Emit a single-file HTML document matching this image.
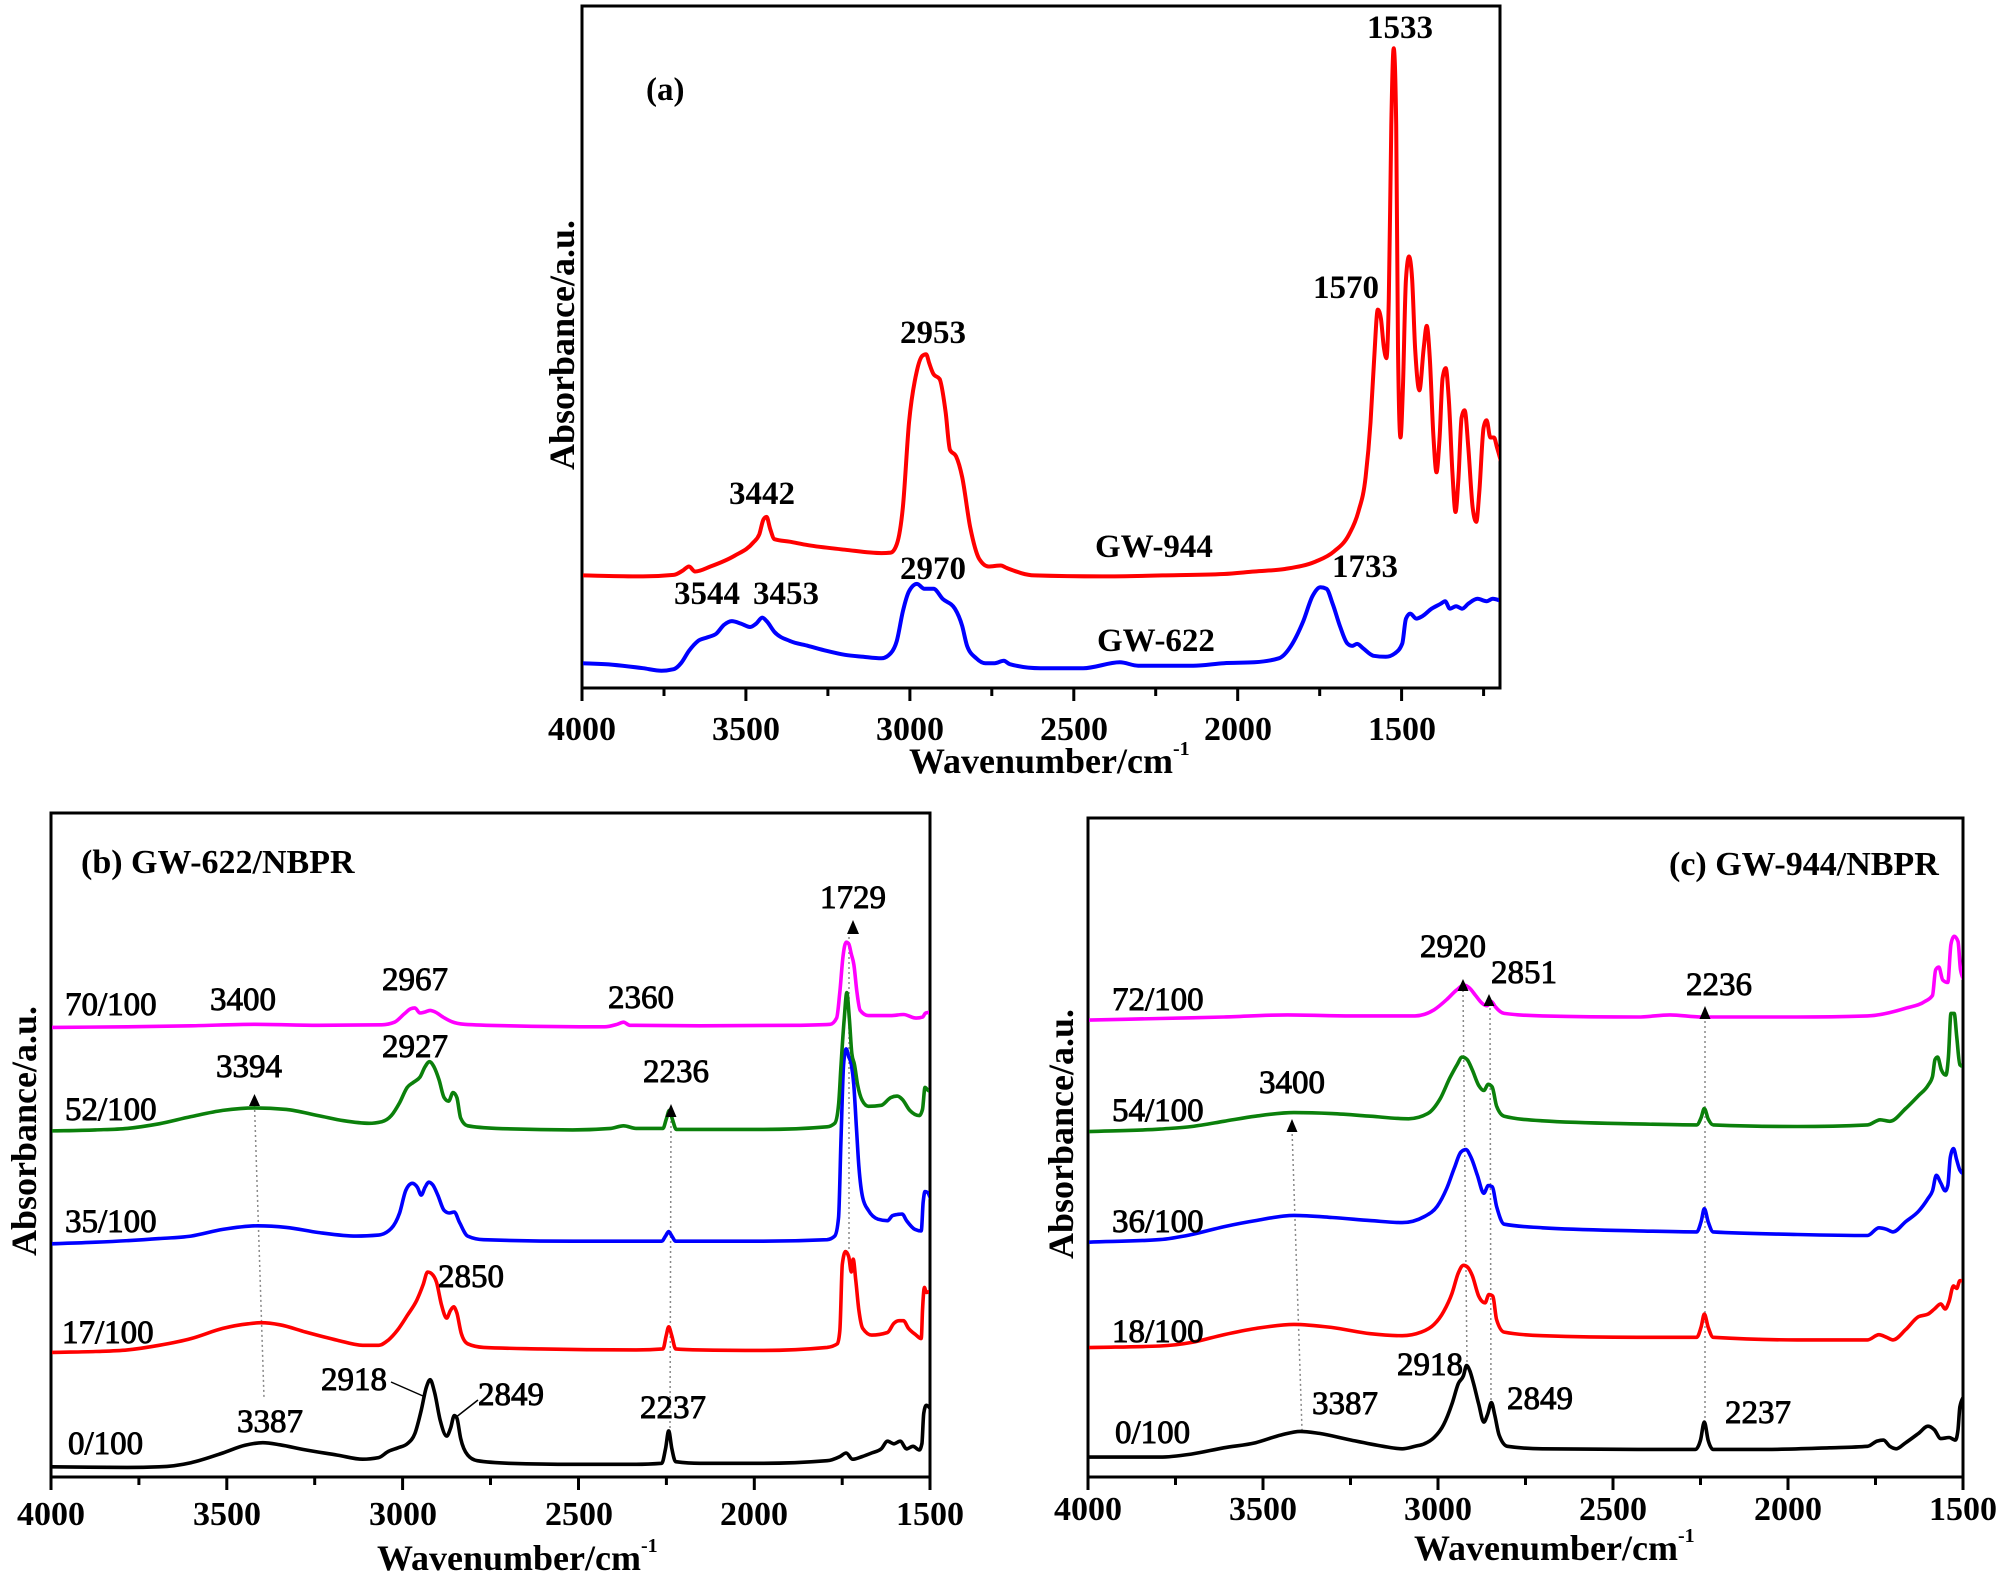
<!DOCTYPE html>
<html><head><meta charset="utf-8">
<style>
html,body{margin:0;padding:0;background:#fff;}
svg{display:block;}
text{font-family:"Liberation Serif","Times New Roman",serif;fill:#000;}
.tk{font-size:34px;font-weight:bold;text-anchor:middle;}
.xl{font-size:36px;font-weight:bold;}
.yl{font-size:36px;font-weight:bold;text-anchor:middle;}
.an{font-size:33px;font-weight:bold;}
.bn{font-size:33px;stroke:#000;stroke-width:0.9px;}
.ttl{font-size:34px;font-weight:bold;}
</style></head><body>
<svg id="s" width="2000" height="1580" viewBox="0 0 2000 1580" xmlns="http://www.w3.org/2000/svg">
<defs>
<clipPath id="ca"><rect x="583" y="7" width="916" height="680"/></clipPath>
<clipPath id="cb"><rect x="52" y="814" width="877" height="662"/></clipPath>
<clipPath id="cc"><rect x="1089" y="819" width="873" height="657"/></clipPath>
</defs>

<!-- Panel A frame -->
<rect x="582" y="6" width="918" height="682" fill="none" stroke="#000" stroke-width="3"/>
<path d="M582,688V701M745.9,688V701M909.9,688V701M1073.8,688V701M1237.7,688V701M1401.6,688V701M664,688V696M827.9,688V696M991.8,688V696M1155.7,688V696M1319.7,688V696M1483.6,688V696" stroke="#000" stroke-width="3"/>
<text class="tk" x="582" y="740">4000</text>
<text class="tk" x="746" y="740">3500</text>
<text class="tk" x="910" y="740">3000</text>
<text class="tk" x="1074" y="740">2500</text>
<text class="tk" x="1238" y="740">2000</text>
<text class="tk" x="1402" y="740">1500</text>
<text class="xl" x="909" y="773">Wavenumber/cm<tspan font-size="20" dy="-18">-1</tspan></text>
<text class="yl" transform="translate(574,345) rotate(-90)">Absorbance/a.u.</text>
<g id="ga" clip-path="url(#ca)"></g>
<text class="an" x="646" y="100">(a)</text>
<text class="an" x="1400" y="38" text-anchor="middle">1533</text>
<text class="an" x="1313" y="298">1570</text>
<text class="an" x="900" y="343">2953</text>
<text class="an" x="729" y="504">3442</text>
<text class="an" x="1095" y="557">GW-944</text>
<text class="an" x="900" y="579">2970</text>
<text class="an" x="674" y="604">3544</text>
<text class="an" x="753" y="604">3453</text>
<text class="an" x="1332" y="577">1733</text>
<text class="an" x="1097" y="651">GW-622</text>

<!-- Panel B frame -->
<rect x="51" y="813" width="879" height="664" fill="none" stroke="#000" stroke-width="3"/>
<path d="M51,1477V1490M226.8,1477V1490M402.6,1477V1490M578.5,1477V1490M754.3,1477V1490M930,1477V1490M138.9,1477V1485M314.7,1477V1485M490.5,1477V1485M666.4,1477V1485M842.2,1477V1485" stroke="#000" stroke-width="3"/>
<text class="tk" x="51" y="1525">4000</text>
<text class="tk" x="227" y="1525">3500</text>
<text class="tk" x="403" y="1525">3000</text>
<text class="tk" x="579" y="1525">2500</text>
<text class="tk" x="754" y="1525">2000</text>
<text class="tk" x="930" y="1525">1500</text>
<text class="xl" x="377" y="1570">Wavenumber/cm<tspan font-size="20" dy="-18">-1</tspan></text>
<text class="yl" transform="translate(36,1131) rotate(-90)">Absorbance/a.u.</text>
<g stroke="#888" stroke-width="1.5" stroke-dasharray="2,3" fill="none">
<path d="M254.5,1105L264,1398"/>
<path d="M671,1116L670,1431"/>
<path d="M849,932L849,1252"/>
</g>
<g id="gb" clip-path="url(#cb)"></g>
<g fill="#000">
<polygon points="847,934 853,920 859,934"/>
<polygon points="249,1106 254.5,1094 260,1106"/>
<polygon points="665.5,1117 671,1104 676.5,1117"/>
</g>
<path d="M391,1382L423,1396M455,1418L478,1400" stroke="#000" stroke-width="1.5" fill="none"/>
<text class="ttl" x="81" y="873">(b) GW-622/NBPR</text>
<text class="bn" x="65" y="1015">70/100</text>
<text class="bn" x="210" y="1010">3400</text>
<text class="bn" x="382" y="990">2967</text>
<text class="bn" x="608" y="1008">2360</text>
<text class="bn" x="853" y="908" text-anchor="middle">1729</text>
<text class="bn" x="65" y="1120">52/100</text>
<text class="bn" x="216" y="1077">3394</text>
<text class="bn" x="382" y="1057">2927</text>
<text class="bn" x="643" y="1082">2236</text>
<text class="bn" x="65" y="1232">35/100</text>
<text class="bn" x="62" y="1343">17/100</text>
<text class="bn" x="438" y="1287">2850</text>
<text class="bn" x="68" y="1454">0/100</text>
<text class="bn" x="237" y="1432">3387</text>
<text class="bn" x="321" y="1390">2918</text>
<text class="bn" x="478" y="1405">2849</text>
<text class="bn" x="640" y="1418">2237</text>

<!-- Panel C frame -->
<rect x="1088" y="818" width="875" height="659" fill="none" stroke="#000" stroke-width="3"/>
<path d="M1088,1477V1490M1263,1477V1490M1438,1477V1490M1613,1477V1490M1788,1477V1490M1963,1477V1490M1175.5,1477V1485M1350.5,1477V1485M1525.5,1477V1485M1700.5,1477V1485M1875.5,1477V1485" stroke="#000" stroke-width="3"/>
<text class="tk" x="1088" y="1520">4000</text>
<text class="tk" x="1263" y="1520">3500</text>
<text class="tk" x="1438" y="1520">3000</text>
<text class="tk" x="1613" y="1520">2500</text>
<text class="tk" x="1788" y="1520">2000</text>
<text class="tk" x="1963" y="1520">1500</text>
<text class="xl" x="1414" y="1560">Wavenumber/cm<tspan font-size="20" dy="-18">-1</tspan></text>
<text class="yl" transform="translate(1073,1134) rotate(-90)">Absorbance/a.u.</text>
<g stroke="#888" stroke-width="1.5" stroke-dasharray="2,3" fill="none">
<path d="M1292,1129L1302,1430"/>
<path d="M1463,990L1467,1365"/>
<path d="M1490,1003L1491,1400"/>
<path d="M1705,1016L1705,1420"/>
</g>
<g id="gc" clip-path="url(#cc)"></g>
<g fill="#000">
<polygon points="1457.5,991 1463,979 1468.5,991"/>
<polygon points="1483.5,1006 1489,994 1494.5,1006"/>
<polygon points="1699.5,1019 1705,1006 1710.5,1019"/>
<polygon points="1286.5,1132 1292,1119 1297.5,1132"/>
</g>
<text class="ttl" x="1669" y="875">(c) GW-944/NBPR</text>
<text class="bn" x="1112" y="1010">72/100</text>
<text class="bn" x="1420" y="957">2920</text>
<text class="bn" x="1491" y="983">2851</text>
<text class="bn" x="1686" y="995">2236</text>
<text class="bn" x="1112" y="1121">54/100</text>
<text class="bn" x="1259" y="1093">3400</text>
<text class="bn" x="1112" y="1232">36/100</text>
<text class="bn" x="1112" y="1342">18/100</text>
<text class="bn" x="1115" y="1443">0/100</text>
<text class="bn" x="1312" y="1414">3387</text>
<text class="bn" x="1397" y="1375">2918</text>
<text class="bn" x="1507" y="1409">2849</text>
<text class="bn" x="1725" y="1423">2237</text>
</svg>
<script>
(function(){
var NS='http://www.w3.org/2000/svg';
function sgn(v){return v<0?-1:(v>0?1:0);}
function mono(p){
  var n=p.length,h=[],s=[],m=[],i;
  for(i=0;i<n-1;i++){h[i]=p[i+1][0]-p[i][0];if(h[i]<=0)h[i]=0.001;s[i]=(p[i+1][1]-p[i][1])/h[i];}
  m[0]=s[0];m[n-1]=s[n-2];
  for(i=1;i<n-1;i++){
    var s0=s[i-1],s1=s[i],h0=h[i-1],h1=h[i];
    var q=(s0*h1+s1*h0)/(h0+h1);
    m[i]=(sgn(s0)+sgn(s1))*Math.min(Math.abs(s0),Math.abs(s1),0.5*Math.abs(q));
  }
  var d='M'+p[0][0].toFixed(1)+','+p[0][1].toFixed(1);
  for(i=0;i<n-1;i++){
    var dx=h[i]/3;
    d+='C'+(p[i][0]+dx).toFixed(1)+','+(p[i][1]+m[i]*dx).toFixed(1)+' '+(p[i+1][0]-dx).toFixed(1)+','+(p[i+1][1]-m[i+1]*dx).toFixed(1)+' '+p[i+1][0].toFixed(1)+','+p[i+1][1].toFixed(1);
  }
  return d;
}
function add(g,pts,m,col,w){
  var el=document.createElementNS(NS,'path');
  el.setAttribute('d',mono(pts.map(m)));
  el.setAttribute('fill','none');el.setAttribute('stroke',col);
  el.setAttribute('stroke-width',w);el.setAttribute('stroke-linejoin','round');el.setAttribute('stroke-linecap','round');
  document.getElementById(g).appendChild(el);
}
var mA=function(p){return [582+(p[0]-50)/1.636,6+(p[1]-10)/2.016];};
var mB=function(p){return [51+(p[0]-80)/1.572,813+(p[1]-70)/1.95];};
var mC=function(p){return [1088+(p[0]-137)/1.569,818+(p[1]-75)/1.945];};

var aRed=[[50,1158],[150,1160],[200,1157],[215,1148],[225,1140],[235,1150],[260,1140],[300,1118],[330,1092],[340,1075],[347,1045],[352,1040],[358,1065],[365,1085],[390,1090],[420,1097],[480,1106],[540,1113],[555,1112],[565,1095],[575,1020],[585,850],[597,750],[607,715],[613,712],[618,730],[625,752],[635,762],[645,830],[652,905],[662,918],[672,960],[685,1060],[700,1125],[715,1140],[735,1138],[745,1143],[790,1158],[900,1160],[1000,1158],[1100,1155],[1150,1150],[1200,1145],[1250,1130],[1280,1110],[1305,1075],[1320,1030],[1332,960],[1340,850],[1346,720],[1352,622],[1357,640],[1362,700],[1366,720],[1370,600],[1374,250],[1378,95],[1382,250],[1385,700],[1389,880],[1393,780],[1398,560],[1403,515],[1408,560],[1413,700],[1420,785],[1427,700],[1432,655],[1437,720],[1443,880],[1448,950],[1453,880],[1458,760],[1463,740],[1468,800],[1474,950],[1479,1030],[1484,960],[1489,840],[1494,825],[1500,900],[1507,1020],[1513,1050],[1518,990],[1525,860],[1530,845],[1536,880],[1542,880],[1547,900],[1555,935]];
var aBlue=[[50,1335],[100,1338],[150,1345],[180,1350],[200,1347],[212,1335],[225,1310],[240,1290],[255,1283],[270,1275],[282,1258],[295,1250],[310,1255],[325,1262],[335,1255],[345,1243],[352,1250],[365,1272],[390,1290],[420,1300],[450,1310],[480,1318],[510,1322],[540,1325],[555,1315],[565,1290],[575,1230],[585,1190],[598,1175],[610,1185],[625,1185],[640,1205],[660,1225],[672,1260],[680,1300],[695,1325],[710,1335],[725,1335],[740,1330],[750,1337],[800,1345],[870,1345],[930,1333],[960,1340],[1050,1340],[1100,1335],[1150,1333],[1190,1325],[1210,1300],[1230,1250],[1245,1200],[1258,1182],[1268,1185],[1278,1215],[1290,1260],[1302,1295],[1310,1300],[1318,1296],[1328,1305],[1345,1320],[1365,1322],[1380,1315],[1392,1295],[1398,1245],[1405,1235],[1415,1245],[1425,1240],[1440,1225],[1455,1215],[1462,1210],[1470,1225],[1480,1220],[1490,1225],[1500,1215],[1515,1205],[1530,1210],[1540,1205],[1555,1210]];
add('ga',aBlue,mA,'#0000ff',4);
add('ga',aRed,mA,'#ff0000',4);

var bK=[[80,1345],[200,1346],[250,1345],[300,1337],[350,1318],[385,1303],[413,1298],[440,1302],[480,1312],[530,1322],[570,1330],[595,1327],[610,1315],[625,1308],[640,1300],[652,1280],[662,1235],[670,1190],[676,1175],[683,1200],[692,1255],[702,1285],[708,1270],[714,1245],[718,1250],[724,1290],[735,1322],[750,1333],[800,1338],[900,1340],[1000,1340],[1040,1338],[1046,1310],[1051,1275],[1056,1310],[1062,1335],[1100,1338],[1200,1338],[1300,1333],[1320,1325],[1330,1318],[1340,1330],[1355,1325],[1370,1318],[1385,1310],[1395,1295],[1405,1300],[1415,1295],[1425,1310],[1435,1305],[1445,1312],[1449,1300],[1452,1240],[1456,1225],[1465,1235]];
var bR=[[80,1122],[150,1120],[200,1117],[250,1108],[300,1095],[350,1075],[390,1066],[410,1064],[440,1068],[480,1082],[530,1098],[570,1108],[595,1108],[610,1098],[625,1078],[640,1050],[655,1020],[665,990],[672,965],[678,968],[686,985],[694,1030],[702,1055],[708,1040],[713,1033],[718,1045],[725,1085],[735,1105],[760,1112],[850,1115],[1000,1117],[1042,1115],[1047,1090],[1051,1072],[1056,1090],[1062,1115],[1100,1117],[1200,1118],[1300,1112],[1316,1105],[1320,1080],[1324,950],[1329,925],[1334,935],[1338,965],[1341,940],[1345,980],[1350,1040],[1356,1075],[1370,1088],[1395,1083],[1405,1065],[1413,1060],[1420,1060],[1428,1075],[1440,1088],[1448,1095],[1450,1040],[1453,995],[1456,1005],[1465,1000]];
var bB=[[80,910],[150,907],[250,900],[300,895],[350,882],[405,875],[450,878],[500,888],[560,895],[595,893],[615,880],[628,850],[638,805],[648,792],[656,800],[662,815],[668,800],[674,790],[680,795],[688,815],[698,845],[706,850],[714,848],[722,868],[735,895],[760,902],[900,905],[1040,905],[1046,895],[1051,886],[1056,895],[1062,905],[1200,905],[1300,902],[1312,895],[1318,860],[1322,700],[1326,560],[1330,530],[1334,545],[1338,560],[1342,600],[1346,680],[1350,760],[1356,820],[1365,845],[1380,862],[1395,865],[1403,855],[1410,853],[1418,852],[1425,865],[1438,882],[1448,885],[1451,830],[1454,808],[1458,810],[1465,830]];
var bG=[[80,690],[150,688],[200,685],[250,676],[300,662],[350,650],[400,645],[450,648],[500,660],[540,670],[580,675],[600,672],[615,660],[628,635],[640,605],[650,595],[660,585],[668,565],[675,555],[682,565],[690,590],[698,625],[705,632],[712,615],[718,625],[724,665],[735,680],[780,685],[900,688],[960,685],[980,680],[1000,685],[1042,685],[1047,668],[1052,650],[1057,668],[1063,687],[1200,687],[1300,682],[1312,675],[1318,640],[1322,560],[1327,470],[1331,420],[1335,470],[1339,540],[1343,560],[1348,600],[1355,630],[1365,642],[1385,640],[1400,625],[1410,622],[1418,628],[1430,650],[1445,660],[1450,648],[1454,605],[1458,610],[1465,615]];
var bM=[[80,488],[200,487],[300,485],[400,482],[500,484],[600,483],[620,478],[635,462],[645,452],[652,450],[660,460],[668,458],[676,455],[684,458],[695,467],[710,477],[730,482],[800,485],[950,487],[970,482],[980,478],[990,484],[1100,485],[1250,484],[1305,482],[1315,470],[1320,420],[1325,350],[1330,322],[1334,325],[1338,345],[1342,365],[1347,420],[1352,455],[1365,465],[1400,465],[1420,463],[1440,470],[1450,468],[1455,460],[1465,458]];
add('gb',bK,mB,'#000000',3.6);
add('gb',bR,mB,'#ff0000',3.6);
add('gb',bB,mB,'#0000ff',3.6);
add('gb',bG,mB,'#0b800b',3.6);
add('gb',bM,mB,'#ff00ff',3.6);

var cK=[[137,1318],[250,1318],[300,1312],[350,1300],[400,1290],[440,1275],[470,1268],[500,1272],[550,1285],[600,1297],[630,1302],[650,1297],[665,1292],[680,1280],[695,1255],[708,1215],[718,1175],[726,1160],[731,1140],[736,1150],[742,1175],[750,1215],[758,1250],[764,1235],[770,1212],[775,1235],[782,1275],[795,1297],[850,1302],[1000,1303],[1090,1303],[1098,1285],[1104,1250],[1110,1285],[1118,1303],[1200,1303],[1300,1300],[1360,1297],[1375,1287],[1385,1285],[1395,1297],[1405,1302],[1420,1290],[1440,1272],[1455,1258],[1465,1265],[1475,1282],[1488,1280],[1498,1285],[1502,1265],[1505,1220],[1513,1195]];
var cR=[[137,1105],[250,1102],[300,1095],[350,1080],[400,1068],[460,1060],[520,1066],[580,1078],[630,1082],[660,1075],[680,1060],[695,1035],[708,1000],[718,960],[726,945],[732,948],[740,965],[750,1005],[760,1018],[766,1002],[772,1005],[778,1050],[790,1075],[850,1082],[1000,1085],[1092,1085],[1099,1065],[1104,1040],[1110,1065],[1118,1085],[1250,1090],[1360,1090],[1378,1080],[1390,1085],[1400,1090],[1420,1070],[1440,1045],[1455,1040],[1465,1030],[1475,1020],[1482,1030],[1488,1015],[1495,985],[1500,990],[1505,975],[1513,975]];
var cB=[[137,900],[250,895],[300,885],[350,870],[400,858],[460,848],[520,852],[580,858],[630,862],[665,850],[685,830],[700,795],[712,755],[722,725],[730,720],[738,735],[748,770],[758,805],[765,790],[771,792],[778,830],[790,865],[850,872],[1000,878],[1092,880],[1099,860],[1104,835],[1110,860],[1118,880],[1250,885],[1360,887],[1378,872],[1390,875],[1400,880],[1420,860],[1440,840],[1455,815],[1462,800],[1468,770],[1475,785],[1482,800],[1486,790],[1490,735],[1495,718],[1500,740],[1505,760],[1513,770]];
var cG=[[137,685],[250,680],[300,675],[350,665],[400,655],[460,648],[520,650],[580,655],[640,660],[670,650],[690,620],[705,580],[716,555],[724,540],[732,545],[740,565],[750,595],[758,605],[765,593],[771,598],[778,635],[790,655],[850,664],[1000,670],[1092,672],[1099,658],[1104,640],[1110,660],[1118,672],[1250,675],[1360,672],[1380,662],[1395,665],[1420,640],[1440,615],[1455,595],[1462,578],[1466,545],[1470,540],[1476,565],[1483,575],[1487,540],[1491,455],[1496,455],[1500,500],[1505,555],[1513,560]];
var cM=[[137,468],[250,465],[350,462],[450,458],[550,460],[650,460],[680,448],[700,428],[715,410],[727,400],[735,405],[745,420],[755,435],[763,440],[770,432],[776,442],[790,455],[850,460],[1000,462],[1050,458],[1100,462],[1250,462],[1360,460],[1420,445],[1450,432],[1462,420],[1467,370],[1472,365],[1478,390],[1486,395],[1491,320],[1496,305],[1502,315],[1506,370],[1513,395]];
add('gc',cK,mC,'#000000',3.6);
add('gc',cR,mC,'#ff0000',3.6);
add('gc',cB,mC,'#0000ff',3.6);
add('gc',cG,mC,'#0b800b',3.6);
add('gc',cM,mC,'#ff00ff',3.6);
})();
</script>
</body></html>
